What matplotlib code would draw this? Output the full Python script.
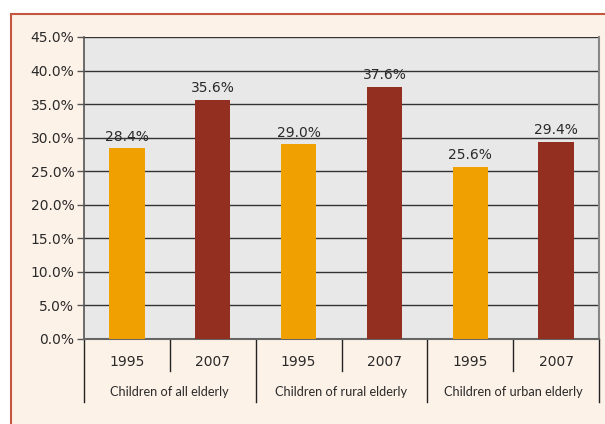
import numpy as np
import matplotlib.pyplot as plt
from matplotlib.patches import Rectangle

# data
groups = ["Children of all elderly", "Children of rural elderly", "Children of urban elderly"]
years = ["1995", "2007"]
share_1995 = [28.4, 29.0, 25.6]
share_2007 = [35.6, 37.6, 29.4]
yticks = np.arange(0, 46, 5)

plt.rcParams['font.family'] = ['DejaVu Sans']
num_font = 10
txt = '#2a2a2a'

fig = plt.figure(figsize=(6.05, 4.24), dpi=100)
fig.patch.set_facecolor('white')

# cream panel with a red border
W, H = 605, 424
fig.patches.append(Rectangle((11 / W, -0.05), 1.1, (H - 14) / H + 0.05,
                             transform=fig.transFigure, facecolor='#fdf2e8',
                             edgecolor='#c4573f', lw=1.5, zorder=-1))

ax = fig.add_axes([84 / W, 1 - 339 / H, (599 - 84) / W, (339 - 37) / H])
ax.set_zorder(2)
ax.set_facecolor('#e8e8e8')

n = len(groups)
x95 = np.arange(n) * 2
x07 = x95 + 1
bw = 0.41
ax.bar(x95, share_1995, bw, color='#f0a000', zorder=3)
ax.bar(x07, share_2007, bw, color='#922f21', zorder=3)

for xs, vals in ((x95, share_1995), (x07, share_2007)):
    for x, v in zip(xs, vals):
        ax.text(x, v + 0.7, f"{v:.1f}%", ha='center', va='bottom',
                fontsize=num_font, color=txt)

ax.set_ylim(0, 45)
ax.set_xlim(-0.5, 2 * n - 0.5)
ax.set_yticks(yticks)
ax.set_yticklabels([f"{t:.1f}%" for t in yticks], fontsize=num_font, color=txt)
ax.yaxis.grid(True, color='#333333', lw=1.0, zorder=1)
ax.set_axisbelow(True)
ax.tick_params(axis='y', length=5, width=1, color='#555555', pad=2)
ax.set_xticks([])

ax.spines['top'].set_visible(False)
ax.spines['left'].set_color('#555555')
ax.spines['right'].set_color('#888888')
ax.spines['bottom'].set_color('#666666')
ax.spines['left'].set_linewidth(1.2)
ax.spines['right'].set_linewidth(1.5)
ax.spines['bottom'].set_linewidth(1.5)

# two-level category axis
trans = ax.get_xaxis_transform()
y_year = -32 / 302
y_group = -63 / 302
for i in range(2 * n):
    ax.text(i, -23 / 302, years[i % 2], transform=trans, ha='center',
            va='center', fontsize=num_font, color=txt)
for b in range(2 * n + 1):
    xb = b - 0.5
    depth = y_group if b % 2 == 0 else y_year
    ax.plot([xb, xb], [0, depth], transform=trans, color='#222222',
            lw=1.0, clip_on=False)
for g, name in enumerate(groups):
    ax.text(2 * g + 0.5, -53 / 302, name, transform=trans, ha='center',
            va='center', fontsize=9.2, color=txt, family='Lato')

fig.savefig('out.png', dpi=100)
